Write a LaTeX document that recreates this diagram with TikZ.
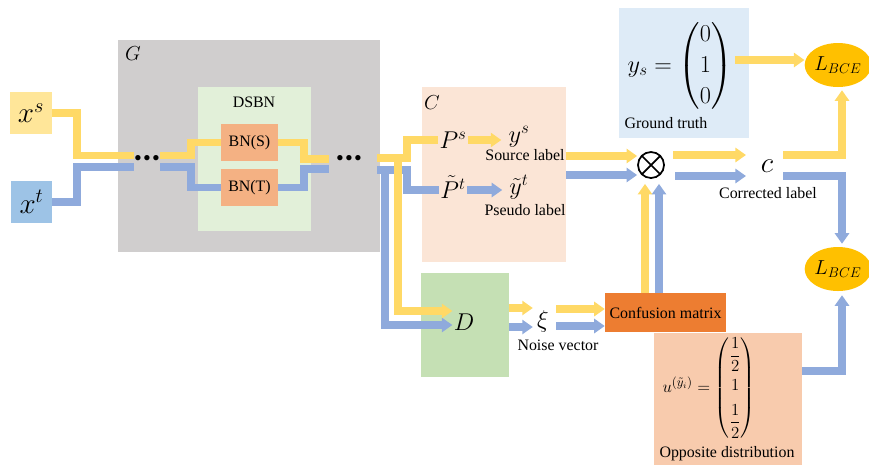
\documentclass[tikz,border=0pt]{standalone}
\usepackage{fontspec}
\setmainfont{Liberation Serif}
\usepackage{amsmath}
\usetikzlibrary{shapes.geometric, arrows.meta, positioning, calc}
\definecolor{LineYellow}{HTML}{FFD966}
\definecolor{LineBlue}{HTML}{8FAADC}
\definecolor{SrcYellow}{HTML}{FFE699}
\definecolor{TgtBlue}{HTML}{9DC3E6}
\definecolor{GenGray}{HTML}{D0CECE}
\definecolor{DsbnGreen}{HTML}{E2F0D9}
\definecolor{BnOrange}{HTML}{F4B183}
\definecolor{ClsPeach}{HTML}{FBE5D6}
\definecolor{DiscGreen}{HTML}{C5E0B4}
\definecolor{TruthBlue}{HTML}{DEEBF7}
\definecolor{LossGold}{HTML}{FFC000}
\definecolor{ConfOrange}{HTML}{ED7D31}
\definecolor{OppPeach}{HTML}{F8CBAD}
\tikzset{
    panel/.style={
        fill=#1,
        inner sep=0pt,
        align=center
    },
    panel/.default=GenGray,
    tagtext/.style={
        inner sep=1pt,
        font=\fontsize{13.6}{16}\selectfont
    },
    symb/.style={
        inner sep=1pt,
        font=\fontsize{20}{23}\selectfont
    },
    lossbox/.style={
        ellipse,
        fill=LossGold,
        minimum width=1.86cm,
        minimum height=1.32cm,
        inner sep=0pt,
        font=\fontsize{17}{20}\selectfont
    },
    srcline/.style={
        draw=LineYellow,
        line width=6.4pt
    },
    tgtline/.style={
        draw=LineBlue,
        line width=6.4pt
    },
    flowtip/.style={
        -{Triangle[width=12pt,length=9pt]}
    }
}

\begin{document}
\begin{tikzpicture}[x=0.03cm, y=-0.03cm, font=\fontsize{13.6}{16}\selectfont]
    \useasboundingbox (0,0) rectangle (869,465);

    % panels
    \node[panel=GenGray, minimum width=7.86cm, minimum height=6.36cm] (G) at (249,146) {};
    \node[tagtext, font=\fontsize{16}{18}\selectfont] (Glab) at (133,54) {$G$};
    \node[panel=DsbnGreen, minimum width=3.39cm, minimum height=4.32cm] (dsbn) at (254.5,159) {};
    \node[tagtext] (dsbnlab) at (254,102) {DSBN};
    \node[panel=BnOrange, minimum width=1.71cm, minimum height=1.11cm] (bns) at (249.5,142.5) {BN(S)};
    \node[panel=BnOrange, minimum width=1.71cm, minimum height=1.11cm] (bnt) at (249.5,187.5) {BN(T)};
    \node[panel=SrcYellow, minimum width=1.26cm, minimum height=1.26cm, font=\fontsize{23}{26}\selectfont] (xs) at (31,113) {$x^s$};
    \node[panel=TgtBlue, minimum width=1.23cm, minimum height=1.26cm, font=\fontsize{23}{26}\selectfont] (xt) at (31.5,202) {$x^t$};
    \node[font=\fontsize{19}{19}\selectfont, inner sep=0pt] (dotsA) at (147,160) {\textbullet\kern1pt\textbullet\kern1pt\textbullet};
    \node[font=\fontsize{19}{19}\selectfont, inner sep=0pt] (dotsB) at (349,160) {\textbullet\kern1pt\textbullet\kern1pt\textbullet};

    \node[panel=ClsPeach, minimum width=4.32cm, minimum height=5.25cm] (Cbox) at (494,174.5) {};
    \node[tagtext, font=\fontsize{16}{18}\selectfont] (Clab) at (432,103) {$C$};
    \node[symb] (Ps) at (453,140) {$P^s$};
    \node[symb] (Pt) at (453,187) {$\tilde{P}^t$};
    \node[symb] (ys) at (519,137) {$y^s$};
    \node[symb] (yt) at (519,187) {$\tilde{y}^t$};
    \node[tagtext] (srclab) at (525,155) {Source label};
    \node[tagtext] (pselab) at (525,210) {Pseudo label};

    \node[panel=DiscGreen, minimum width=2.64cm, minimum height=3.12cm] (Dbox) at (465,325) {};
    \node[symb] (Dlab) at (464,322) {$D$};
    \node[symb] (xi) at (543,321) {$\xi$};
    \node[tagtext] (noiselab) at (558,345) {Noise vector};
    \node[panel=ConfOrange, minimum width=3.63cm, minimum height=1.17cm] (CM) at (665.5,312.5) {Confusion matrix};

    \node[panel=TruthBlue, minimum width=3.9cm, minimum height=3.9cm] (GT) at (684,73) {};
    \node[symb] (ysvec) at (680,66)
        {$y_s=\renewcommand{\arraystretch}{1.15}\begin{pmatrix}0\\1\\0\end{pmatrix}$};
    \node[tagtext] (gtlab) at (666,123) {Ground truth};

    \node[panel=OppPeach, minimum width=4.44cm, minimum height=3.96cm] (OD) at (728,399) {};
    \node[inner sep=1pt, font=\fontsize{15}{18}\selectfont] (uvec) at (709,388)
        {$u^{(\tilde{y}_i)}=\renewcommand{\arraystretch}{1.1}\begin{pmatrix}\dfrac{1}{2}\\[6pt]1\\[6pt]\dfrac{1}{2}\end{pmatrix}$};
    \node[tagtext] (oplab) at (727,454) {Opposite distribution};

    \node[circle, draw, line width=1.5pt, minimum size=0.78cm, inner sep=0pt,
        path picture={\draw[line width=1.5pt]
            (path picture bounding box.north west) -- (path picture bounding box.south east)
            (path picture bounding box.north east) -- (path picture bounding box.south west);}] (mult) at (651,165) {};
    \node[inner sep=1pt, font=\fontsize{34}{34}\selectfont] (corr) at (767,166) {$c$};
    \node[tagtext] (corrlab) at (768,193) {Corrected label};

    \node[lossbox] (Lup) at (838,65) {$L_{BCE}$};
    \node[lossbox] (Ldown) at (838,269) {$L_{BCE}$};

    % free ends
    \coordinate (gYin) at (134,155.5);
    \coordinate (gBin) at (134,167);
    \coordinate (dYin) at (160,155.5);
    \coordinate (dBin) at (160,167);
    \coordinate (dYout) at (329,159);
    \coordinate (dBout) at (329,169);
    \coordinate (gYout) at (377,158);
    \coordinate (gBout) at (377,170);
    \coordinate (cYin) at (673,155);
    \coordinate (cBin) at (675,176);
    \coordinate (cYend) at (746,155);
    \coordinate (cBend) at (746,176);
    \coordinate (cYout) at (783,155);
    \coordinate (cBout) at (783,176);

    % generator
    \draw[srcline] (xs.east) -- ++(25,0) |- (gYin);
    \draw[tgtline] (xt.east) -- ++(25,0) |- (gBin);
    \draw[srcline] (dYin) -- ++(31,0) |- (bns.west);
    \draw[tgtline] (dBin) -- ++(31,0) |- (bnt.west);
    \draw[srcline] (bns.east) -- ++(26,0) |- (dYout);
    \draw[tgtline] (bnt.east) -- ++(26,0) |- (dBout);

    % classifier and discriminator
    \draw[tgtline, flowtip] (gBout) -- ++(8,0) |- ($(Dlab.west)+(0,3)$);
    \draw[tgtline] (gBout) -- ++(30,0) |- ($(Pt.west)+(0,3)$);
    \draw[srcline, flowtip] (gYout) -- ++(21,0) |- ($(Dlab.west)+(0,-11)$);
    \draw[srcline] (gYout) -- ++(30,0) |- (Ps.west);
    \draw[srcline, flowtip, shorten >=5pt] (Ps.east) -- (Ps.east -| ys.west);
    \draw[tgtline, flowtip, shorten >=5pt] ($(Pt.east)+(0,3)$) -- ($(Pt.east -| yt.west)+(0,3)$);

    \draw[srcline, flowtip] ($(Cbox.east)+(0,-18.5)$) -- ($(mult.west)+(0,-9)$);
    \draw[tgtline, flowtip] ($(Cbox.east)+(0,0.5)$) -- ($(mult.west)+(0,10)$);
    \draw[srcline, flowtip] ($(Dbox.east)+(0,-17)$) -- ($(xi.west)+(-3,-13)$);
    \draw[tgtline, flowtip] ($(Dbox.east)+(0,2)$) -- ($(xi.west)+(-3,6)$);
    \draw[srcline, flowtip] ($(xi.east)+(6,-12)$) -- ($(CM.west)+(0,-3.5)$);
    \draw[tgtline, flowtip] ($(xi.east)+(6,5)$) -- ($(CM.west)+(0,13.5)$);
    \draw[srcline, flowtip] ($(CM.north)+(-20.5,0)$) -- ($(mult.south)+(-6,5)$);
    \draw[tgtline, flowtip] ($(CM.north)+(-6.5,0)$) -- ($(mult.south)+(8,5)$);

    % losses
    \draw[srcline, flowtip] (cYin) -- (cYend);
    \draw[tgtline, flowtip] (cBin) -- (cBend);
    \draw[srcline, flowtip] (cYout) -| ($(Lup.south)+(4,3)$);
    \draw[tgtline, flowtip] (cBout) -| ($(Ldown.north)+(4,-3)$);
    \draw[srcline, flowtip] ($(GT.east)+(-14,-13)$) -- ($(Lup.west)+(0,-5)$);
    \draw[tgtline, flowtip] ($(OD.east)+(0,-28)$) -| ($(Ldown.south)+(4,4)$);
\end{tikzpicture}
\end{document}
